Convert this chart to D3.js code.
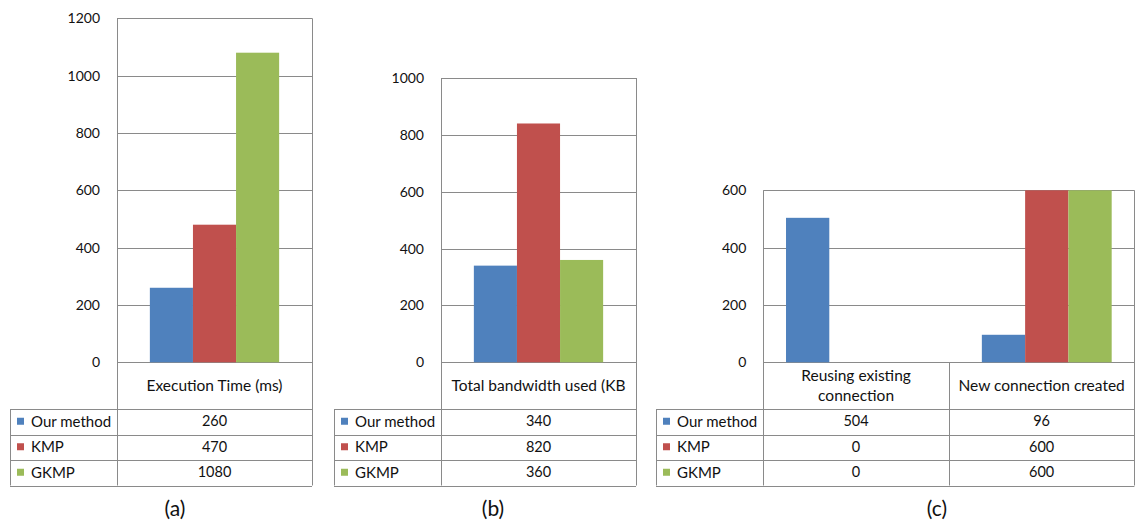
<!DOCTYPE html>
<html>
<head>
<meta charset="utf-8">
<script src="https://cdn.jsdelivr.net/npm/d3@7"></script>
<style>
  html, body { margin: 0; padding: 0; background: #fff; }
  svg { display: block; }
  text { font-family: Lato, "Open Sans", sans-serif; fill: #111; }
</style>
</head>
<body>
<svg id="chart" width="1135" height="521"></svg>
<script>
// ---------- data ----------
const series = ["Our method", "KMP", "GKMP"];
const seriesColors = ["#4F81BD", "#C0504D", "#9BBB59"];

// (a) Execution time
const catA = [["Execution Time (ms)"]];
const barsA = [[260], [480], [1080]];          // bar heights as drawn
const tableA = [["260"], ["470"], ["1080"]];   // table labels
const ticksA = [0, 200, 400, 600, 800, 1000, 1200];

// (b) Bandwidth
const catB = [["Total bandwidth used (KB"]];
const barsB = [[340], [840], [360]];
const tableB = [["340"], ["820"], ["360"]];
const ticksB = [0, 200, 400, 600, 800, 1000];

// (c) Connections
const catC = [["Reusing existing", "connection"], ["New connection created"]];
const barsC = [[504, 96], [0, 600], [0, 600]];
const tableC = [["504", "96"], ["0", "600"], ["0", "600"]];
const ticksC = [0, 200, 400, 600];

const panelLabels = ["(a)", "(b)", "(c)"];

// ---------- drawing ----------
const svg = d3.select("#chart");
svg.append("rect").attr("width", 1135).attr("height", 521).attr("fill", "#fff");

const gridColor = "#8a8a8a";
const y0 = 362.3;
const rowYs = [409, 434.5, 460, 485.5];

function drawPanel(cfg) {
  const g = svg.append("g");
  const nCat = cfg.cats.length;
  const x = d3.scaleBand()
    .domain(d3.range(nCat))
    .range([cfg.plotLeft, cfg.plotRight])
    .paddingInner(0.337)
    .paddingOuter(cfg.padOuter);
  const x1 = d3.scaleBand().domain(d3.range(series.length)).range([0, x.bandwidth()]);
  const y = d3.scaleLinear().domain([0, d3.max(cfg.ticks)]).range([y0, cfg.top]);

  // gridlines
  g.selectAll("line.grid").data(cfg.ticks).join("line")
    .attr("x1", cfg.plotLeft).attr("x2", cfg.plotRight)
    .attr("y1", d => Math.round(y(d)) + 0.5).attr("y2", d => Math.round(y(d)) + 0.5)
    .attr("stroke", gridColor).attr("stroke-width", 1);

  // axis labels
  const ax = g.append("g").attr("transform", `translate(${cfg.plotLeft},0)`)
    .call(d3.axisLeft(y).tickValues(cfg.ticks).tickSize(0).tickPadding(17).tickFormat(d3.format("d")));
  ax.select(".domain").remove();
  ax.selectAll("text").style("font-family", "Lato, 'Open Sans', sans-serif")
    .style("font-size", "14px").attr("fill", "#111");

  // bars
  series.forEach((s, si) => {
    g.selectAll(null).data(cfg.bars[si]).join("rect")
      .attr("x", (d, ci) => x(ci) + x1(si))
      .attr("width", x1.bandwidth())
      .attr("y", d => y(d))
      .attr("height", d => y0 - y(d))
      .attr("fill", seriesColors[si]);
  });

  // table frame
  const bottom = rowYs[rowYs.length - 1];
  const L = (x1_, y1_, x2_, y2_) => g.append("line")
    .attr("x1", x1_).attr("y1", y1_).attr("x2", x2_).attr("y2", y2_)
    .attr("stroke", gridColor).attr("stroke-width", 1);
  const px = v => Math.round(v) + 0.5;
  L(px(cfg.plotLeft), cfg.top, px(cfg.plotLeft), bottom);
  L(px(cfg.plotRight), cfg.top, px(cfg.plotRight), bottom);
  L(px(cfg.tableLeft), rowYs[0], px(cfg.tableLeft), bottom);
  rowYs.forEach(ry => L(cfg.tableLeft, px(ry), cfg.plotRight, px(ry)));
  // column separators between categories
  for (let ci = 1; ci < nCat; ci++) {
    const sx = cfg.plotLeft + (cfg.plotRight - cfg.plotLeft) * ci / nCat;
    L(px(sx), y0, px(sx), bottom);
  }

  // category header text
  const colW = (cfg.plotRight - cfg.plotLeft) / nCat;
  cfg.cats.forEach((lines, ci) => {
    const cx = cfg.plotLeft + colW * (ci + 0.5);
    const cy = (y0 + rowYs[0]) / 2;
    const lh = 20;
    lines.forEach((t, li) => {
      g.append("text")
        .attr("x", cx)
        .attr("y", cy + (li - (lines.length - 1) / 2) * lh)
        .attr("dy", "0.35em")
        .attr("text-anchor", "middle")
        .style("font-size", "15.5px")
        .text(t);
    });
  });

  // legend rows + values
  series.forEach((s, si) => {
    const cy = (rowYs[si] + rowYs[si + 1]) / 2 - 0.5;
    g.append("rect")
      .attr("x", cfg.tableLeft + 7).attr("y", cy - 3.5)
      .attr("width", 7).attr("height", 7)
      .attr("fill", seriesColors[si]);
    g.append("text")
      .attr("x", cfg.tableLeft + 21).attr("y", cy).attr("dy", "0.35em")
      .style("font-size", "15px").text(s);
    cfg.table[si].forEach((v, ci) => {
      g.append("text")
        .attr("x", cfg.plotLeft + colW * (ci + 0.5))
        .attr("y", cy).attr("dy", "0.35em")
        .attr("text-anchor", "middle")
        .style("font-size", "14.5px").text(v);
    });
  });

  // panel label
  g.append("text")
    .attr("x", cfg.labelX).attr("y", 516)
    .attr("text-anchor", "middle")
    .style("font-size", "21px")
    .text(cfg.label);
}

drawPanel({ cats: catA, bars: barsA, table: tableA, ticks: ticksA,
  tableLeft: 10, plotLeft: 117, plotRight: 312, top: 18.3, padOuter: 0.166,
  label: panelLabels[0], labelX: 175 });
drawPanel({ cats: catB, bars: barsB, table: tableB, ticks: ticksB,
  tableLeft: 334, plotLeft: 441, plotRight: 636, top: 78, padOuter: 0.166,
  label: panelLabels[1], labelX: 493 });
drawPanel({ cats: catC, bars: barsC, table: tableC, ticks: ticksC,
  tableLeft: 656, plotLeft: 763.3, plotRight: 1134.4, top: 190.3, padOuter: 0.116,
  label: panelLabels[2], labelX: 937 });
</script>
</body>
</html>
